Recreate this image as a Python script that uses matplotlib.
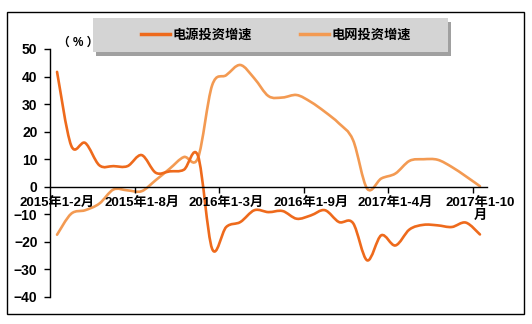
import numpy as np
import matplotlib
matplotlib.use("Agg")
import matplotlib.pyplot as plt
from matplotlib.path import Path
from matplotlib.patches import PathPatch, Rectangle
from matplotlib.lines import Line2D

plt.rcParams['font.family'] = ['Liberation Sans', 'Noto Sans CJK SC', 'DejaVu Sans']

# 2015年1-2月 ... 2017年1-10月 (cumulative, monthly)
periods = (["2015年1-%d月" % m for m in range(2, 13)] +
           ["2016年1-%d月" % m for m in range(2, 13)] +
           ["2017年1-%d月" % m for m in range(2, 11)])

power = [41.7, 15.0, 15.9, 7.8, 7.5, 7.5, 11.5, 5.1, 5.6, 6.2, 11.2,
         -22.5, -14.6, -12.8, -8.5, -9.2, -8.8, -11.6, -10.4, -8.5, -12.8, -13.2,
         -26.7, -17.6, -21.3, -15.5, -13.8, -14.0, -14.6, -13.0, -17.3]
grid = [-17.4, -9.8, -8.5, -6.1, -1.0, -1.3, -1.6, 2.4, 6.6, 10.8, 10.5,
        36.8, 40.5, 44.2, 39.3, 32.9, 32.4, 33.3, 30.8, 27.2, 23.0, 16.9,
        -0.7, 3.0, 4.8, 9.4, 10.0, 9.8, 7.2, 3.8, 0.2]

label_idx = [0, 6, 12, 18, 24, 30]
tick_labels = ["2015年1-2月", "2015年1-8月", "2016年1-3月", "2016年1-9月",
               "2017年1-4月", "2017年1-10\n月"]

names = ["电源投资增速", "电网投资增速"]
c_power = "#EE6A1C"
c_grid = "#F39A52"


def smooth_path(xs, ys):
    # Excel-like smoothed line: Catmull-Rom segments as cubic Beziers
    pts = np.column_stack([xs, ys]).astype(float)
    n = len(pts)
    verts = [pts[0]]
    codes = [Path.MOVETO]
    for i in range(n - 1):
        p0 = pts[max(i - 1, 0)]
        p1 = pts[i]
        p2 = pts[i + 1]
        p3 = pts[min(i + 2, n - 1)]
        c1 = p1 + (p2 - p0) / 6.0
        c2 = p2 - (p3 - p1) / 6.0
        verts += [c1, c2, p2]
        codes += [Path.CURVE4] * 3
    return Path(verts, codes)


W, H = 532, 324
fig = plt.figure(figsize=(W / 100, H / 100), dpi=100)
ax = fig.add_axes([50 / W, 1 - 297 / H, (487 - 50) / W, (297 - 49) / H])

x = np.arange(len(periods))
for ys, col in [(grid, c_grid), (power, c_power)]:
    ax.add_patch(PathPatch(smooth_path(x, ys), fill=False, edgecolor=col,
                           lw=1.9, capstyle='round', joinstyle='round'))

ax.set_xlim(-0.5, len(periods) - 0.5)
ax.set_ylim(-40, 50)

ax.spines['top'].set_visible(False)
ax.spines['right'].set_visible(False)
ax.spines['bottom'].set_position(('data', 0))
ax.spines['left'].set_linewidth(1.0)
ax.spines['bottom'].set_linewidth(1.0)

ax.set_yticks(range(-40, 51, 10))
ax.tick_params(axis='y', direction='out', length=4, width=1, labelsize=10, pad=5)
for t in ax.get_yticklabels():
    t.set_fontweight('bold')

ax.set_xticks([i - 0.5 for i in label_idx[1:]])
ax.set_xticklabels([])
ax.tick_params(axis='x', which='major', direction='out', length=4, width=1)
ax.set_xticks(label_idx, minor=True)
ax.set_xticklabels(tick_labels, minor=True, fontsize=9.5, fontweight='bold',
                   linespacing=1.1, va='top')
ax.tick_params(axis='x', which='minor', length=0, pad=7)

ax.text(58 / W, 1 - 43 / H, "（ % ）", transform=fig.transFigure, fontsize=8.5,
        fontweight='bold', va='center', ha='left')

# legend box with shadow
fig.patches.append(Rectangle((96 / W, 1 - 56 / H), 355 / W, 34 / H,
                             transform=fig.transFigure, facecolor="#A0A0A0",
                             edgecolor='none', zorder=0))
fig.patches.append(Rectangle((93 / W, 1 - 52 / H), 355 / W, 34 / H,
                             transform=fig.transFigure, facecolor="#D4D4D4",
                             edgecolor='none', zorder=1))
handles = [Line2D([], [], color=c_power, lw=2.5), Line2D([], [], color=c_grid, lw=2.5)]
leg = fig.legend(handles, names, loc='center', bbox_to_anchor=(276 / W, 1 - 35 / H),
                 ncol=2, frameon=False, handlelength=2.2, handletextpad=0.15,
                 columnspacing=3.7, prop={'size': 9.5, 'weight': 'bold'})

# outer border
fig.patches.append(Rectangle((7 / W, 1 - 314 / H), 517 / W, 302 / H,
                             transform=fig.transFigure, facecolor='none',
                             edgecolor='black', lw=1.0))

fig.savefig("out.png", dpi=100)
